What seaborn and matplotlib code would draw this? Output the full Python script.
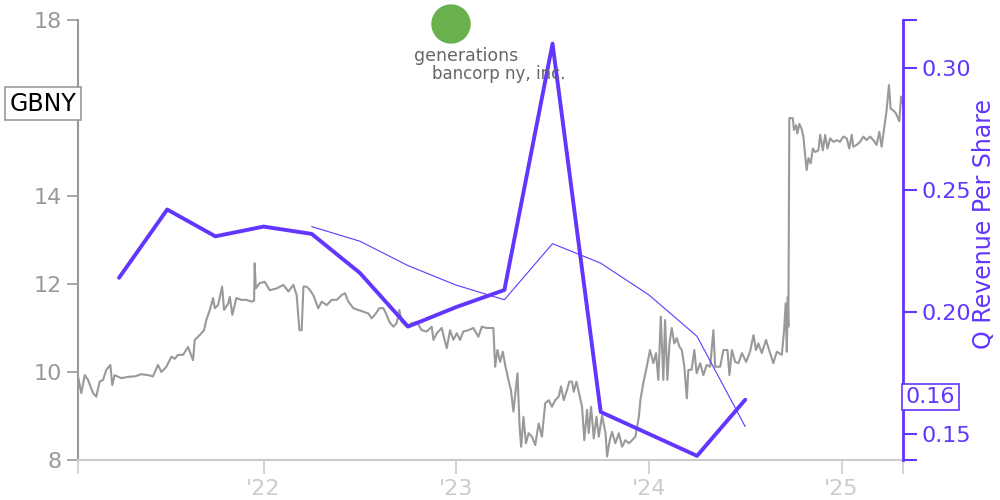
import numpy as np
import pandas as pd
import seaborn as sns
import matplotlib
matplotlib.use("Agg")
import matplotlib.pyplot as plt
from matplotlib.patches import Ellipse

# Daily close of GBNY (decimal year, price)
price_t = [2021.037, 2021.054, 2021.072, 2021.089, 2021.115, 2021.132, 2021.149, 2021.167, 2021.184, 2021.205,
           2021.215, 2021.227, 2021.262, 2021.297, 2021.331, 2021.366, 2021.400, 2021.426, 2021.452, 2021.470,
           2021.496, 2021.522, 2021.539, 2021.556, 2021.582, 2021.608, 2021.634, 2021.643, 2021.669, 2021.691,
           2021.703, 2021.721, 2021.738, 2021.747, 2021.764, 2021.785, 2021.795, 2021.816, 2021.825, 2021.838,
           2021.859, 2021.885, 2021.911, 2021.937, 2021.951, 2021.954, 2021.960, 2021.980, 2022.006, 2022.032,
           2022.069, 2022.103, 2022.129, 2022.155, 2022.172, 2022.186, 2022.198, 2022.207, 2022.224, 2022.241,
           2022.258, 2022.284, 2022.302, 2022.328, 2022.354, 2022.380, 2022.406, 2022.423, 2022.440, 2022.466,
           2022.492, 2022.518, 2022.544, 2022.561, 2022.578, 2022.601, 2022.622, 2022.639, 2022.653, 2022.674,
           2022.691, 2022.705, 2022.717, 2022.743, 2022.769, 2022.795, 2022.821, 2022.847, 2022.873, 2022.882,
           2022.899, 2022.925, 2022.942, 2022.951, 2022.968, 2022.985, 2023.003, 2023.020, 2023.037, 2023.063,
           2023.089, 2023.115, 2023.133, 2023.158, 2023.193, 2023.202, 2023.214, 2023.228, 2023.242, 2023.254,
           2023.271, 2023.284, 2023.297, 2023.306, 2023.318, 2023.329, 2023.337, 2023.349, 2023.362, 2023.376,
           2023.393, 2023.410, 2023.428, 2023.445, 2023.462, 2023.480, 2023.497, 2023.514, 2023.532, 2023.544,
           2023.558, 2023.575, 2023.587, 2023.601, 2023.610, 2023.624, 2023.636, 2023.653, 2023.665, 2023.679,
           2023.688, 2023.700, 2023.714, 2023.728, 2023.740, 2023.757, 2023.775, 2023.783, 2023.797, 2023.809,
           2023.826, 2023.844, 2023.861, 2023.878, 2023.896, 2023.913, 2023.930, 2023.948, 2023.956, 2023.971,
           2023.989, 2024.006, 2024.023, 2024.037, 2024.049, 2024.062, 2024.075, 2024.084, 2024.096, 2024.107,
           2024.119, 2024.132, 2024.145, 2024.158, 2024.171, 2024.184, 2024.197, 2024.205, 2024.222, 2024.236,
           2024.248, 2024.266, 2024.283, 2024.300, 2024.318, 2024.335, 2024.344, 2024.370, 2024.387, 2024.408,
           2024.418, 2024.431, 2024.448, 2024.465, 2024.483, 2024.505, 2024.525, 2024.543, 2024.556, 2024.568,
           2024.586, 2024.608, 2024.629, 2024.646, 2024.664, 2024.690, 2024.702, 2024.710, 2024.716, 2024.721,
           2024.724, 2024.729, 2024.747, 2024.753, 2024.764, 2024.771, 2024.781, 2024.793, 2024.802, 2024.810,
           2024.819, 2024.828, 2024.840, 2024.851, 2024.863, 2024.880, 2024.889, 2024.903, 2024.915, 2024.927,
           2024.941, 2024.958, 2024.975, 2024.992, 2025.009, 2025.027, 2025.040, 2025.053, 2025.061, 2025.078,
           2025.096, 2025.113, 2025.130, 2025.148, 2025.165, 2025.182, 2025.196, 2025.208, 2025.220, 2025.234,
           2025.246, 2025.255, 2025.268, 2025.282, 2025.300, 2025.309, 2025.317]
price_v = [9.90, 9.52, 9.93, 9.82, 9.52, 9.44, 9.78, 9.82, 10.05, 10.16,
           9.70, 9.93, 9.86, 9.89, 9.90, 9.95, 9.93, 9.90, 10.16, 10.00,
           10.12, 10.35, 10.30, 10.39, 10.39, 10.57, 10.27, 10.73, 10.84, 10.95,
           11.18, 11.41, 11.68, 11.45, 11.52, 11.94, 11.41, 11.55, 11.71, 11.30,
           11.68, 11.64, 11.64, 11.60, 11.62, 12.47, 11.90, 12.02, 12.05, 11.86,
           11.90, 11.98, 11.83, 11.98, 11.75, 10.95, 10.95, 11.94, 11.94, 11.86,
           11.75, 11.45, 11.60, 11.52, 11.64, 11.64, 11.75, 11.79, 11.60, 11.45,
           11.41, 11.37, 11.33, 11.22, 11.30, 11.45, 11.45, 11.30, 11.14, 11.03,
           11.11, 11.41, 11.14, 11.03, 11.11, 11.14, 10.95, 10.92, 11.03, 10.73,
           10.88, 11.00, 10.69, 10.54, 10.95, 10.73, 10.88, 10.73, 10.92, 10.95,
           11.00, 10.80, 11.03, 11.00, 11.00, 10.12, 10.50, 10.23, 10.46, 10.16,
           9.82, 9.59, 9.10, 9.47, 9.97, 8.76, 8.30, 8.98, 8.38, 8.61,
           8.53, 8.34, 8.83, 8.53, 9.29, 9.36, 9.21, 9.36, 9.44, 9.67,
           9.36, 9.59, 9.78, 9.78, 9.55, 9.78, 9.55, 9.21, 8.45, 9.14,
           8.61, 9.21, 8.49, 8.98, 8.53, 9.01, 8.61, 8.08, 8.45, 8.64,
           8.38, 8.61, 8.30, 8.45, 8.38, 8.45, 8.53, 8.98, 9.36, 9.75,
           10.12, 10.50, 10.20, 10.43, 9.82, 11.26, 9.82, 11.18, 9.82, 10.65,
           11.00, 10.65, 10.77, 10.58, 10.50, 10.12, 9.40, 10.05, 10.05, 10.50,
           9.97, 10.20, 9.93, 10.16, 10.12, 10.95, 10.12, 10.12, 10.50, 10.50,
           9.93, 10.50, 10.23, 10.20, 10.43, 10.23, 10.46, 10.84, 10.50, 10.65,
           10.43, 10.73, 10.43, 10.20, 10.46, 10.39, 10.95, 11.56, 10.46, 11.71,
           11.03, 15.77, 15.77, 15.50, 15.61, 15.42, 15.64, 15.52, 15.35, 14.97,
           14.59, 14.86, 14.74, 15.08, 15.00, 15.04, 15.39, 15.04, 15.39, 15.08,
           15.31, 15.23, 15.27, 15.23, 15.35, 15.31, 15.08, 15.39, 15.12, 15.16,
           15.23, 15.35, 15.27, 15.35, 15.27, 15.16, 15.46, 15.12, 15.50, 15.95,
           16.52, 15.98, 15.95, 15.88, 15.70, 16.26, 16.10]

# Quarterly revenue per share (quarter end as decimal year)
rev_t = [2021.25, 2021.5, 2021.75, 2022.0, 2022.25, 2022.5, 2022.75,
         2023.0, 2023.25, 2023.5, 2023.75, 2024.0, 2024.25, 2024.5]
rev_q = [0.214, 0.242, 0.231, 0.235, 0.232, 0.216, 0.194,
         0.202, 0.209, 0.310, 0.159, 0.150, 0.141, 0.164]
# thin line (trailing average)
avg_t = [2022.25, 2022.5, 2022.75, 2023.0, 2023.25, 2023.5, 2023.75, 2024.0, 2024.25, 2024.5]
avg_q = [0.235, 0.229, 0.219, 0.211, 0.205, 0.228, 0.220, 0.207, 0.190, 0.153]

year_ticks = [2022, 2023, 2024, 2025]
year_labels = ["'22", "'23", "'24", "'25"]
price_ticks = [8, 10, 12, 14, 18]
rev_ticks = [0.15, 0.20, 0.25, 0.30]

purple = '#6236ff'
gray = '#999999'

sns.set_style('white')
plt.rcParams['font.family'] = ['DejaVu Sans']

fig = plt.figure(figsize=(10, 5), dpi=100)
ax = fig.add_axes([0.078, 0.08, 0.825, 0.88])
ax2 = ax.twinx()

df_price = pd.DataFrame({'t': price_t, 'price': price_v})
sns.lineplot(data=df_price, x='t', y='price', ax=ax, color=gray, linewidth=1.5, estimator=None, sort=False)

sns.lineplot(x=avg_t, y=avg_q, ax=ax2, color=purple, linewidth=0.8, estimator=None)
sns.lineplot(x=rev_t, y=rev_q, ax=ax2, color=purple, linewidth=2.8, estimator=None)

x0, x1 = 2021.037, 2025.319
ax.set_xlim(x0, x1)
ax.set_ylim(8, 18)
ax2.set_ylim(0.1393, 0.3197)

# left axis
ax.set_yticks(price_ticks)
ax.set_yticklabels([str(v) for v in price_ticks])
ax.tick_params(axis='y', colors=gray, labelsize=16, length=8, width=1.2, direction='out', left=True)
ax.spines['left'].set_color(gray)
ax.spines['left'].set_linewidth(1.5)
ax.spines['top'].set_visible(False)
ax.spines['right'].set_visible(False)
ax.spines['bottom'].set_color('#cccccc')
ax.spines['bottom'].set_linewidth(1.5)

# x axis
ax.set_xticks(year_ticks)
ax.set_xticklabels(year_labels)
ax.set_xticks([x0, x1], minor=True)
ax.tick_params(axis='x', which='both', colors='#cccccc', labelsize=16, length=10, width=1.2,
               direction='out', bottom=True, pad=4)
ax.set_xlabel('')
ax.set_ylabel('')

# right axis
ax2.set_yticks(rev_ticks)
ax2.set_yticklabels(['%.2f' % v for v in rev_ticks])
ax2.set_yticks([0.1393, 0.3197], minor=True)
ax2.tick_params(axis='y', which='both', colors=purple, labelsize=16, length=10, width=1.5,
                direction='out', right=True)
for s in ['left', 'top', 'bottom']:
    ax2.spines[s].set_visible(False)
ax2.spines['right'].set_color(purple)
ax2.spines['right'].set_linewidth(2)
ax2.set_ylabel('')
ax2.set_xlabel('')

fig.text(0.984, 0.552, 'Q Revenue Per Share', rotation=90, ha='center', va='center',
         color=purple, fontsize=17)

# ticker label on the left axis
ax.annotate('GBNY', xy=(0, 16.1), xycoords=('axes fraction', 'data'),
            xytext=(-1, 0), textcoords='offset points', ha='right', va='center',
            fontsize=17, color='black',
            bbox=dict(boxstyle='square,pad=0.2', fc='white', ec=gray, lw=1.2))

# last value label on the right axis
ax2.annotate('%.2f' % rev_q[-1], xy=(1, rev_q[-1]), xycoords=('axes fraction', 'data'),
             xytext=(2, 2), textcoords='offset points', ha='left', va='center',
             fontsize=16, color=purple,
             bbox=dict(boxstyle='square,pad=0.15', fc='white', ec=purple, lw=1.2))

# company logo stand-in
fig.patches.append(Ellipse((0.451, 0.952), 0.038, 0.076, transform=fig.transFigure,
                           color='#6ab04c', zorder=5))
fig.text(0.466, 0.888, 'generations', ha='center', va='center', color='#666666', fontsize=12.5)
fig.text(0.499, 0.852, 'bancorp ny, inc.', ha='center', va='center', color='#666666', fontsize=12)

fig.savefig('out.png', dpi=100)
